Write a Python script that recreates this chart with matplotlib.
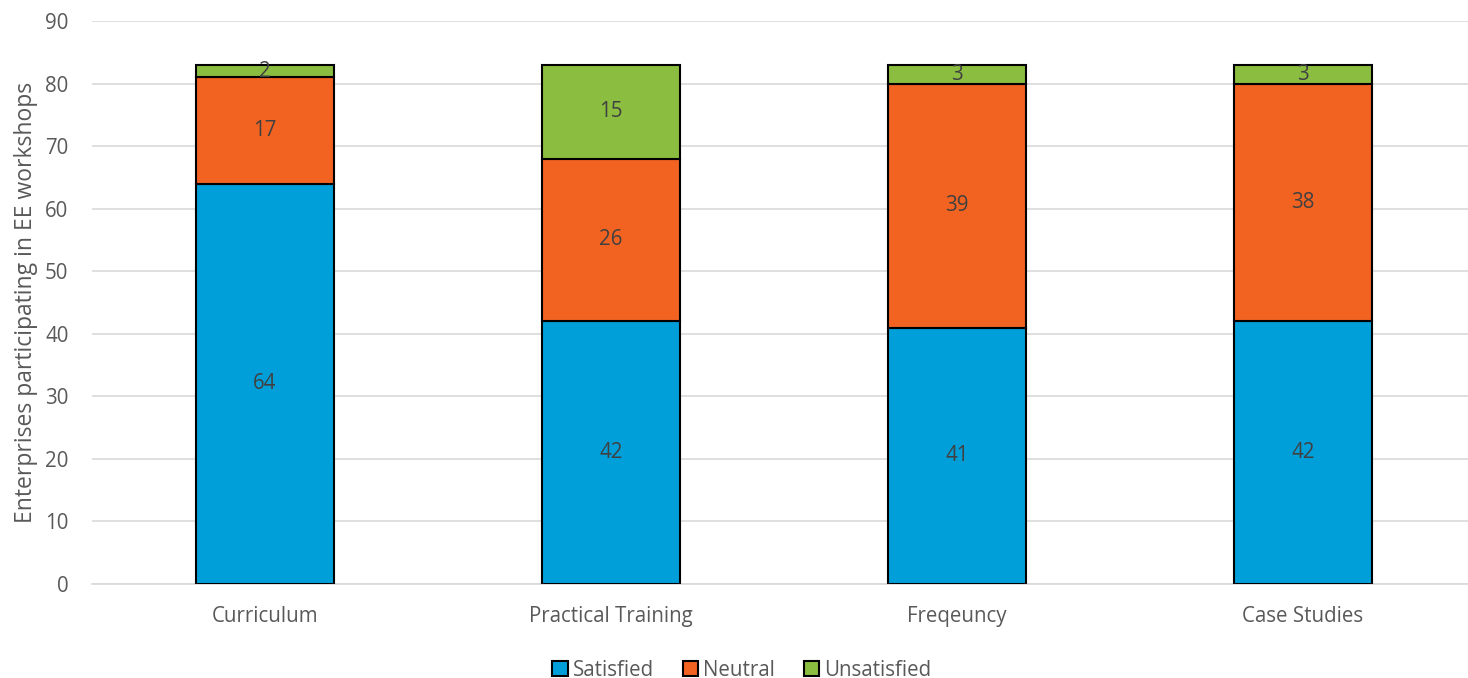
import matplotlib
matplotlib.use("Agg")
import matplotlib.pyplot as plt
import numpy as np

categories = ["Curriculum", "Practical Training", "Freqeuncy", "Case Studies"]
satisfied = [64, 42, 41, 42]
neutral = [17, 26, 39, 38]
unsatisfied = [2, 15, 3, 3]
series_names = ["Satisfied", "Neutral", "Unsatisfied"]
colors = ["#009FDA", "#F26322", "#8BBD40"]

plt.rcParams['font.family'] = ['Open Sans', 'DejaVu Sans']
txt = "#595959"
fs = 14.8

fig = plt.figure(figsize=(14.68, 6.78), dpi=100)
ax = fig.add_axes([92/1468, 94/678, 1384/1468, 563/678])

x = np.arange(len(categories))
bottom = np.zeros(len(categories))
handles = []
for vals, name, c in zip([satisfied, neutral, unsatisfied], series_names, colors):
    bars = ax.bar(x, vals, width=0.4, bottom=bottom, color=c, edgecolor="black",
                  linewidth=1.5, label=name, zorder=3)
    for xi, b, v in zip(x, bottom, vals):
        ax.text(xi, b + v / 2, str(v), ha="center", va="center", fontsize=fs,
                color="#404040", zorder=4)
    bottom = bottom + np.array(vals)
    handles.append(bars)

ax.set_xlim(-0.5, 3.5)
ax.set_ylim(0, 90)
ax.set_yticks(range(0, 91, 10))
ax.set_xticks(x)
ax.set_xticklabels(categories)
ax.tick_params(axis="both", length=0, labelsize=fs, labelcolor=txt)
ax.tick_params(axis="x", pad=16)
ax.tick_params(axis="y", pad=17)
ax.grid(axis="y", color="#D9D9D9", linewidth=1.2, zorder=0)
for s in ["top", "right", "left"]:
    ax.spines[s].set_visible(False)
ax.spines["bottom"].set_color("#D9D9D9")
ax.spines["bottom"].set_linewidth(1.2)

fig.text(26/1468, 1 - 302/678, "Enterprises participating in EE workshops", rotation=90,
         ha="center", va="center", fontsize=16.5, color=txt)

fig.legend(handles=handles, labels=series_names, loc="center", bbox_to_anchor=(742/1468, 1 - 670/678),
           ncol=3, frameon=False, fontsize=fs, handlelength=0.75, handleheight=0.75,
           handletextpad=0.25, columnspacing=1.4, labelcolor=txt)

fig.savefig("out.png", dpi=100)
